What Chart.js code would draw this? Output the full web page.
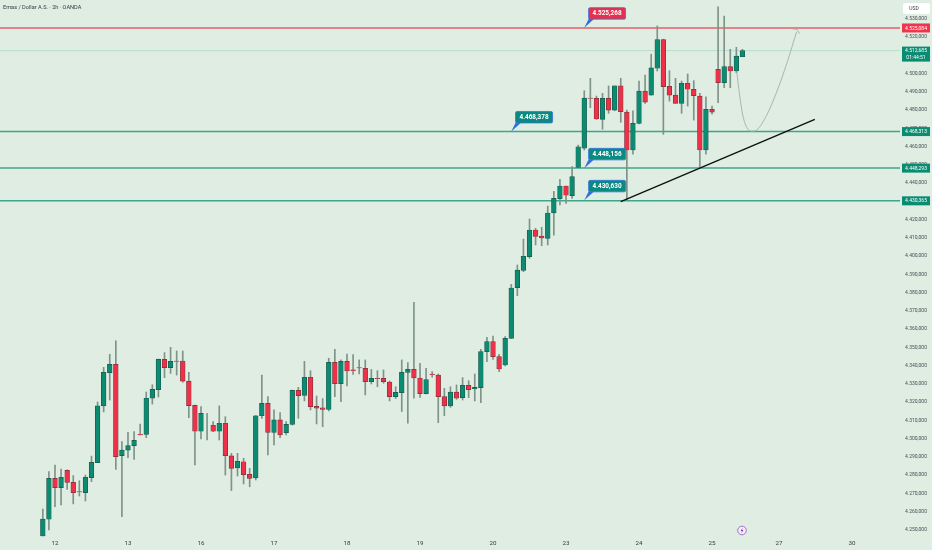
<!DOCTYPE html>
<html>
<head>
<meta charset="utf-8">
<style>
html, body { margin: 0; padding: 0; background: #dfede2; overflow: hidden; }
canvas { display: block; }
</style>
<script src="https://cdn.jsdelivr.net/npm/chart.js@4"></script>
</head>
<body>
<canvas id="goldChart" width="932" height="550"></canvas>
<script>
// candles run from slot -2 (slot 0 is the "12" tick), one slot per 2h bar
const firstSlot = -2;
const opens = [4246.7,4255.9,4278.3,4273.2,4282.7,4276.1,4271.0,4270.5,4278.7,4286.9,4318.0,4336.2,4340.8,4290.7,4293.8,4296.2,4302.4,4302.4,4322.2,4326.9,4343.5,4339.0,4342.6,4342.6,4331.6,4318.3,4304.1,4304.6,4307.4,4304.1,4308.5,4290.6,4284.0,4287.4,4280.5,4278.5,4312.6,4319.4,4303.5,4310.3,4303.3,4307.9,4326.5,4323.8,4333.7,4317.8,4316.9,4316.1,4341.9,4330.2,4342.4,4337.7,4339.0,4338.6,4331.3,4333.1,4333.1,4331.1,4323.1,4325.3,4336.4,4338.0,4333.3,4324.7,4335.5,4334.9,4323.1,4318.0,4325.6,4322.5,4329.3,4327.3,4328.0,4347.7,4353.2,4345.0,4340.4,4355.0,4382.8,4392.3,4399.8,4414.4,4411.1,4409.8,4423.7,4431.5,4438.5,4433.2,4448.7,4459.2,4486.7,4486.5,4475.0,4486.5,4480.1,4493.4,4479.0,4458.2,4472.8,4490.5,4488.3,4503.0,4518.7,4493.1,4488.3,4483.8,4494.8,4491.5,4487.8,4458.2,4480.5,4502.4,4495.1,4503.9,4501.5,4509.3];
const highs = [4261.5,4282.0,4285.6,4283.4,4282.9,4279.8,4277.0,4280.1,4290.5,4320.1,4339.1,4346.3,4353.6,4298.4,4303.5,4303.9,4308.1,4325.6,4329.6,4343.7,4347.2,4350.1,4348.1,4348.1,4336.4,4318.5,4317.6,4313.9,4309.4,4318.0,4312.1,4292.0,4292.0,4289.3,4283.8,4312.8,4334.9,4323.1,4315.8,4314.3,4309.4,4326.7,4328.2,4342.4,4337.3,4323.4,4322.0,4344.1,4349.0,4343.2,4346.4,4346.1,4343.2,4343.2,4338.0,4337.3,4337.7,4331.6,4328.5,4343.2,4341.7,4374.8,4341.3,4338.6,4336.8,4335.5,4327.6,4328.5,4329.5,4333.5,4331.8,4335.5,4349.0,4355.6,4356.3,4346.3,4356.0,4384.6,4395.2,4409.4,4420.4,4415.3,4415.9,4427.5,4435.6,4442.2,4438.5,4449.1,4460.9,4490.7,4497.5,4487.8,4489.3,4493.3,4493.4,4497.5,4480.1,4479.7,4496.0,4499.3,4510.7,4526.2,4518.9,4501.7,4497.5,4496.0,4499.9,4496.2,4489.3,4487.4,4482.3,4536.7,4531.6,4513.4,4514.5,4513.4];
const lows = [4246.7,4250.0,4262.8,4263.7,4272.3,4264.3,4268.6,4265.9,4276.5,4286.9,4314.7,4321.2,4283.2,4257.3,4289.6,4288.7,4302.1,4300.6,4319.0,4322.9,4333.5,4335.8,4334.9,4330.9,4311.5,4285.6,4299.9,4299.3,4303.9,4299.3,4280.1,4271.6,4279.6,4275.2,4273.7,4277.4,4311.2,4291.1,4296.6,4300.6,4302.1,4307.5,4311.2,4320.7,4315.8,4308.1,4306.6,4315.2,4323.1,4320.3,4328.9,4335.3,4335.5,4324.0,4330.0,4328.5,4330.4,4320.7,4322.0,4314.9,4308.5,4322.2,4322.7,4324.5,4333.7,4308.8,4312.6,4317.2,4321.6,4321.2,4322.5,4320.7,4319.8,4342.2,4343.5,4336.8,4339.9,4355.0,4378.4,4391.5,4398.9,4406.2,4405.8,4406.2,4411.6,4428.1,4429.0,4431.7,4448.7,4458.2,4481.4,4475.0,4469.6,4478.3,4479.7,4473.4,4430.8,4455.9,4472.5,4483.8,4488.3,4501.5,4466.8,4485.0,4483.8,4478.3,4482.3,4474.6,4448.2,4456.0,4477.8,4484.1,4492.4,4492.4,4500.6,4509.3];
const closes = [4256.0,4278.3,4273.2,4278.9,4276.1,4270.5,4270.8,4278.9,4287.1,4318.0,4336.4,4340.8,4290.2,4293.8,4296.2,4299.1,4302.1,4322.2,4327.1,4343.5,4339.0,4342.4,4342.4,4331.6,4318.1,4304.1,4313.9,4304.6,4304.1,4308.5,4290.7,4283.8,4287.6,4280.3,4278.3,4312.6,4319.4,4303.5,4310.3,4302.1,4307.9,4326.5,4323.6,4333.7,4317.6,4316.7,4316.1,4341.9,4330.2,4342.4,4337.1,4337.3,4338.8,4331.3,4333.1,4332.9,4331.3,4323.1,4325.4,4336.4,4338.0,4333.3,4324.7,4332.4,4335.1,4323.1,4318.0,4325.6,4322.2,4329.3,4326.9,4328.2,4347.7,4353.2,4345.0,4338.2,4355.0,4382.6,4392.4,4400.0,4414.4,4410.9,4410.0,4423.7,4431.7,4438.5,4433.4,4443.6,4460.0,4486.7,4486.5,4475.2,4486.5,4480.1,4493.4,4479.2,4458.2,4472.8,4490.5,4484.4,4503.2,4518.7,4492.9,4488.3,4483.8,4494.8,4491.5,4488.0,4458.2,4480.5,4479.0,4495.1,4503.9,4501.5,4509.7,4512.7];

const dayTickSlots = [0, 12, 24, 36, 48, 60, 72, 84, 96, 108, 119, 131];
const dayTickLabels = ['12', '13', '16', '17', '18', '19', '20', '23', '24', '25', '27', '30'];
const priceTicks = [4530,4520,4510,4500,4490,4480,4470,4460,4450,4440,4430,4420,4410,4400,4390,4380,4370,4360,4350,4340,4330,4320,4310,4300,4290,4280,4270,4260,4250];

const resistanceLevel = 4525.084;
const lastPrice = 4512.685;
const supportLevels = [4468.313, 4448.293, 4430.365];

const calloutLabels = ['4.525,268', '4.468,378', '4.448,156', '4.430,630'];
const calloutPrices = [4525.268, 4468.378, 4448.156, 4430.630];
const calloutSlots = [87, 75, 87, 87];

const trendSlots = [93, 124.9];
const trendPrices = [4429.9, 4475.0];
const curveSlots = [112.07, 112.5, 113.05, 113.7, 114.5, 115.35, 117, 118.65, 120.3, 121.9];
const curvePrices = [4501.1, 4489.3, 4477.4, 4470.7, 4468.5, 4469.2, 4477.4, 4490.2, 4505.7, 4523.0];
const arrowSlots = [121.2, 122, 122.4];
const arrowPrices = [4524.6, 4524.3, 4522.0];

const green = '#0b8c72', greenEdge = '#17594c';
const red = '#ee3148', redEdge = '#7d3039';
const xMin = -9.04, xMax = 138.9;

function formatPrice(v, digits) {
    let s = v.toFixed(digits).replace('.', ',');
    return s[0] + '.' + s.slice(1);
}

function pairs(xs, ys) {
    return xs.map(function(x, i) { return {x: x, y: ys[i]}; });
}

function flatLine(price, color, width) {
    return {
        type: 'line',
        data: [{x: xMin, y: price}, {x: xMax, y: price}],
        borderColor: color,
        borderWidth: width,
        pointRadius: 0,
        order: 5
    };
}

function roundBox(ctx, x, y, w, h, r) {
    ctx.beginPath();
    ctx.roundRect(x, y, w, h, r);
}

// the axes must not reserve room for half a label at their ends
function noEndPadding(scale) {
    scale.paddingTop = 0;
    scale.paddingBottom = 0;
    scale.paddingLeft = 0;
    scale.paddingRight = 0;
}

// price tags, callouts and the header are text on top of the chart
const overlay = {
    id: 'overlay',
    afterDraw: function(chart) {
        const ctx = chart.ctx;
        const xs = chart.scales.x, ys = chart.scales.y;
        ctx.save();
        ctx.textBaseline = 'middle';

        ctx.fillStyle = '#363a45';
        ctx.font = '5.6px Roboto';
        ctx.textAlign = 'left';
        ctx.fillText('Emas / Dollar A.S. · 2h · OANDA', 3, 7.5);

        ctx.textAlign = 'center';
        ctx.fillStyle = '#ffffff';
        roundBox(ctx, 903, 3, 27, 11, 2);
        ctx.fill();
        ctx.fillStyle = '#363a45';
        ctx.font = '5px Roboto';
        ctx.fillText('USD', 914, 8.5);

        // right side tags
        ctx.font = '5px Roboto';
        const tags = [resistanceLevel].concat(supportLevels);
        tags.forEach(function(p, i) {
            const y = ys.getPixelForValue(p);
            ctx.fillStyle = i == 0 ? '#f0354a' : '#0a8c72';
            ctx.fillRect(902, y - 4.5, 28, 9);
            ctx.fillStyle = '#ffffff';
            ctx.fillText(formatPrice(p, 3), 916, y + 0.3);
        });
        const lastY = ys.getPixelForValue(lastPrice);
        ctx.fillStyle = '#0a8c72';
        ctx.fillRect(902, lastY - 4, 28, 15);
        ctx.fillStyle = '#ffffff';
        ctx.fillText(formatPrice(lastPrice, 3), 916, lastY);
        ctx.fillText('01:44:51', 916, lastY + 6.8);

        // callouts with a small tail pointing at the level
        ctx.font = 'bold 6.4px Roboto';
        calloutLabels.forEach(function(label, i) {
            const tipX = xs.getPixelForValue(calloutSlots[i]);
            const tipY = ys.getPixelForValue(calloutPrices[i]);
            const fill = i == 0 ? '#e6304e' : '#0a8a80';
            ctx.fillStyle = '#2f6fe0';
            ctx.beginPath();
            ctx.moveTo(tipX, tipY);
            ctx.lineTo(tipX + 4.5, tipY - 9);
            ctx.lineTo(tipX + 10, tipY - 9);
            ctx.closePath();
            ctx.fill();
            roundBox(ctx, tipX + 4.3, tipY - 20, 37, 11.5, 1.5);
            ctx.fillStyle = fill;
            ctx.fill();
            ctx.strokeStyle = '#3a74dc';
            ctx.lineWidth = 0.8;
            ctx.stroke();
            ctx.fillStyle = '#ffffff';
            ctx.fillText(label, tipX + 22.8, tipY - 14);
        });

        // lightning badge on the time axis
        ctx.beginPath();
        ctx.arc(742, 530.5, 4.3, 0, Math.PI * 2);
        ctx.fillStyle = '#f4eef8';
        ctx.fill();
        ctx.strokeStyle = '#9c5fc9';
        ctx.lineWidth = 0.9;
        ctx.stroke();
        ctx.fillStyle = '#7f3fb0';
        ctx.beginPath();
        ctx.moveTo(742.8, 527.6);
        ctx.lineTo(740.6, 531);
        ctx.lineTo(742, 531);
        ctx.lineTo(741.2, 533.4);
        ctx.lineTo(743.4, 530);
        ctx.lineTo(742, 530);
        ctx.closePath();
        ctx.fill();
        ctx.restore();
    }
};

function drawChart() {
    const ctx = document.getElementById('goldChart').getContext('2d');
    const slots = opens.map(function(o, i) { return firstSlot + i; });
    new Chart(ctx, {
        type: 'bar',
        data: {
            datasets: [
                flatLine(resistanceLevel, '#e2606c', 1.5),
                flatLine(lastPrice, 'rgba(8,153,129,0.18)', 1),
                flatLine(supportLevels[0], '#3fa58b', 1.5),
                flatLine(supportLevels[1], '#3fa58b', 1.5),
                flatLine(supportLevels[2], '#3fa58b', 1.5),
                {
                    data: slots.map(function(x, i) { return {x: x, y: [lows[i], highs[i]]}; }),
                    backgroundColor: '#7f9389',
                    barThickness: 1,
                    grouped: false,
                    order: 3
                },
                {
                    data: slots.map(function(x, i) { return {x: x, y: [opens[i], closes[i]]}; }),
                    backgroundColor: opens.map(function(o, i) { return closes[i] >= o ? green : red; }),
                    borderColor: opens.map(function(o, i) { return closes[i] >= o ? greenEdge : redEdge; }),
                    borderWidth: 0.7,
                    borderSkipped: false,
                    barThickness: 4.7,
                    grouped: false,
                    order: 2
                },
                {
                    type: 'line',
                    data: pairs(curveSlots, curvePrices),
                    borderColor: '#a3b0a8',
                    borderWidth: 0.9,
                    cubicInterpolationMode: 'monotone',
                    pointRadius: 0,
                    order: 1
                },
                {
                    type: 'line',
                    data: pairs(arrowSlots, arrowPrices),
                    borderColor: '#a3b0a8',
                    borderWidth: 0.9,
                    pointRadius: 0,
                    order: 1
                },
                {
                    type: 'line',
                    data: pairs(trendSlots, trendPrices),
                    borderColor: '#0c0f10',
                    borderWidth: 1.3,
                    pointRadius: 0,
                    order: 0
                }
            ]
        },
        options: {
            responsive: false,
            animation: false,
            layout: {padding: 0},
            plugins: {legend: {display: false}, tooltip: {enabled: false}},
            scales: {
                x: {
                    type: 'linear',
                    offset: false,
                    min: xMin,
                    max: xMax,
                    grid: {display: false, drawTicks: false},
                    border: {display: false},
                    afterBuildTicks: function(scale) {
                        scale.ticks = dayTickSlots.map(function(v) { return {value: v}; });
                    },
                    afterFit: function(scale) {
                        scale.height = 13;
                        noEndPadding(scale);
                    },
                    ticks: {
                        autoSkip: false,
                        maxRotation: 0,
                        padding: 3,
                        color: '#363a45',
                        font: {family: 'Roboto', size: 6.2},
                        callback: function(v, i) { return dayTickLabels[i]; }
                    }
                },
                y: {
                    position: 'right',
                    min: 4246.16,
                    max: 4540.41,
                    grid: {display: false, drawTicks: false},
                    border: {display: false},
                    afterBuildTicks: function(scale) {
                        scale.ticks = priceTicks.map(function(v) { return {value: v}; });
                    },
                    afterFit: function(scale) {
                        scale.width = 32;
                        noEndPadding(scale);
                    },
                    ticks: {
                        autoSkip: false,
                        padding: 5,
                        color: '#4a4f58',
                        font: {family: 'Roboto', size: 5},
                        callback: function(v) { return formatPrice(v, 3); }
                    }
                }
            }
        },
        plugins: [overlay]
    });
}

drawChart();
</script>
</body>
</html>
